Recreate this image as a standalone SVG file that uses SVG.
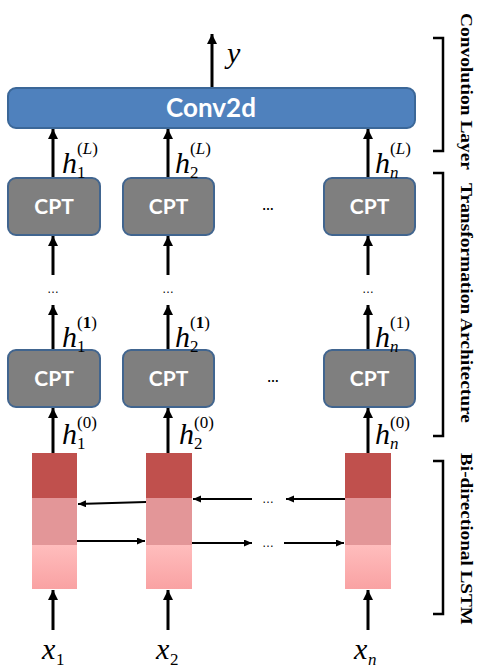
<svg xmlns="http://www.w3.org/2000/svg" width="481" height="668" viewBox="0 0 481 668">
<style>
.conv{fill:#4f81bd;stroke:#3b6798;stroke-width:2}
.cpt{fill:#7f7f7f;stroke:#41658f;stroke-width:2}
.lbl{font-family:"Lato","Open Sans",sans-serif;font-weight:bold;fill:#ffffff;text-anchor:middle}
.m{font-family:"Liberation Serif","Times New Roman",serif;fill:#000}
.it{font-style:italic}
.sub{font-size:17px}
.sup{font-size:17px}
.big{font-size:30px}
.dots{font-family:"Liberation Sans",Arial,sans-serif;font-size:12px;fill:#000;text-anchor:middle}
.side{font-family:"Liberation Serif","Times New Roman",serif;font-weight:bold;font-size:17px;fill:#000}
.v{stroke:#000;stroke-width:3;fill:none}
.h{stroke:#000;stroke-width:2;fill:none}
.br{stroke:#000;stroke-width:2.5;fill:none}
</style>
<defs>
<marker id="ah" markerUnits="userSpaceOnUse" markerWidth="10" markerHeight="11" refX="10" refY="5" orient="auto">
<path d="M0,0 L10,5 L0,10 Z" fill="#000"/>
</marker>
<marker id="ahs" markerUnits="userSpaceOnUse" markerWidth="8" markerHeight="8" refX="8" refY="3.5" orient="auto">
<path d="M0,0 L8,3.5 L0,7 Z" fill="#000"/>
</marker>
<linearGradient id="pink" x1="0" y1="0" x2="0" y2="1">
<stop offset="0" stop-color="#ffbdbd"/>
<stop offset="1" stop-color="#f9a2a3"/>
</linearGradient>
</defs>

<g id="connectors">
<line class="v" x1="212" y1="88" x2="212" y2="34" marker-end="url(#ah)"/>
<line class="v" x1="53" y1="178" x2="53" y2="129" marker-end="url(#ah)"/>
<line class="v" x1="168" y1="178" x2="168" y2="129" marker-end="url(#ah)"/>
<line class="v" x1="368" y1="178" x2="368" y2="129" marker-end="url(#ah)"/>
<line class="v" x1="53" y1="275" x2="53" y2="236" marker-end="url(#ah)"/>
<line class="v" x1="168" y1="275" x2="168" y2="236" marker-end="url(#ah)"/>
<line class="v" x1="368" y1="275" x2="368" y2="236" marker-end="url(#ah)"/>
<line class="v" x1="53" y1="350" x2="53" y2="305" marker-end="url(#ah)"/>
<line class="v" x1="168" y1="350" x2="168" y2="305" marker-end="url(#ah)"/>
<line class="v" x1="368" y1="350" x2="368" y2="305" marker-end="url(#ah)"/>
<line class="v" x1="53" y1="453" x2="53" y2="408" marker-end="url(#ah)"/>
<line class="v" x1="168" y1="453" x2="168" y2="408" marker-end="url(#ah)"/>
<line class="v" x1="368" y1="453" x2="368" y2="408" marker-end="url(#ah)"/>
<line class="v" x1="53" y1="630" x2="53" y2="590" marker-end="url(#ah)"/>
<line class="v" x1="168" y1="630" x2="168" y2="590" marker-end="url(#ah)"/>
<line class="v" x1="368" y1="630" x2="368" y2="590" marker-end="url(#ah)"/>
<line class="h" x1="146" y1="502" x2="78" y2="504" marker-end="url(#ahs)"/>
<line class="h" x1="252" y1="499" x2="193" y2="499" marker-end="url(#ahs)"/>
<line class="h" x1="345" y1="499" x2="286" y2="499" marker-end="url(#ahs)"/>
<line class="h" x1="77" y1="541" x2="145" y2="541" marker-end="url(#ahs)"/>
<line class="h" x1="192" y1="543" x2="252" y2="543" marker-end="url(#ahs)"/>
<line class="h" x1="284" y1="543" x2="344" y2="543" marker-end="url(#ahs)"/>
</g>

<g id="conv2d">
<rect class="conv" x="8" y="88" width="407" height="40" rx="8"/>
<text class="lbl" x="211" y="117" font-size="26">Conv2d</text>
</g>

<g id="cpt-L-1"><rect class="cpt" x="8" y="178" width="92" height="57" rx="8"/><text class="lbl" x="54" y="214" font-size="21">CPT</text></g>
<g id="cpt-L-2"><rect class="cpt" x="123" y="178" width="91" height="57" rx="8"/><text class="lbl" x="168.5" y="214" font-size="21">CPT</text></g>
<g id="cpt-L-n"><rect class="cpt" x="324" y="178" width="91" height="57" rx="8"/><text class="lbl" x="369.5" y="214" font-size="21">CPT</text></g>
<g id="cpt-1-1"><rect class="cpt" x="8" y="350" width="92" height="57" rx="8"/><text class="lbl" x="54" y="386" font-size="21">CPT</text></g>
<g id="cpt-1-2"><rect class="cpt" x="123" y="350" width="91" height="57" rx="8"/><text class="lbl" x="168.5" y="386" font-size="21">CPT</text></g>
<g id="cpt-1-n"><rect class="cpt" x="324" y="350" width="91" height="57" rx="8"/><text class="lbl" x="369.5" y="386" font-size="21">CPT</text></g>

<g id="lstm-1">
<rect x="32" y="453" width="45" height="45" fill="#c0504d"/>
<rect x="32" y="498" width="45" height="47" fill="#e39698"/>
<rect x="32" y="545" width="45" height="44" fill="url(#pink)"/>
</g>
<g id="lstm-2">
<rect x="146" y="453" width="46" height="45" fill="#c0504d"/>
<rect x="146" y="498" width="46" height="47" fill="#e39698"/>
<rect x="146" y="545" width="46" height="44" fill="url(#pink)"/>
</g>
<g id="lstm-n">
<rect x="345" y="453" width="46" height="45" fill="#c0504d"/>
<rect x="345" y="498" width="46" height="47" fill="#e39698"/>
<rect x="345" y="545" width="46" height="44" fill="url(#pink)"/>
</g>

<g id="dots">
<text class="dots" x="268" y="210" font-weight="bold">…</text>
<text class="dots" x="273" y="382" font-weight="bold">…</text>
<text class="dots" x="53" y="293">…</text>
<text class="dots" x="168" y="293">…</text>
<text class="dots" x="368" y="293">…</text>
<text class="dots" x="268" y="503">…</text>
<text class="dots" x="268" y="547">…</text>
</g>

<g id="labels">
<text class="m it big" x="227" y="63">y</text>

<text class="m it big" x="62" y="173">h</text><text class="m sub" x="77" y="178">1</text><text class="m sup" x="77" y="154">(<tspan class="it">L</tspan>)</text>
<text class="m it big" x="175" y="173">h</text><text class="m sub" x="190" y="178">2</text><text class="m sup" x="190" y="154">(<tspan class="it">L</tspan>)</text>
<text class="m it big" x="375" y="173">h</text><text class="m sub it" x="390" y="178">n</text><text class="m sup" x="390" y="154">(<tspan class="it">L</tspan>)</text>

<text class="m it big" x="62" y="347">h</text><text class="m sub" x="77" y="352">1</text><text class="m sup" x="77" y="328">(<tspan font-weight="bold">1</tspan>)</text>
<text class="m it big" x="175" y="347">h</text><text class="m sub" x="190" y="352">2</text><text class="m sup" x="190" y="328">(<tspan font-weight="bold">1</tspan>)</text>
<text class="m it big" x="375" y="347">h</text><text class="m sub it" x="390" y="352">n</text><text class="m sup" x="390" y="328">(1)</text>

<text class="m it big" x="62" y="444">h</text><text class="m sub" x="77" y="449">1</text><text class="m sup" x="77" y="428">(0)</text>
<text class="m it big" x="179" y="444">h</text><text class="m sub" x="194" y="449">2</text><text class="m sup" x="194" y="428">(0)</text>
<text class="m it big" x="375" y="444">h</text><text class="m sub it" x="390" y="449">n</text><text class="m sup" x="390" y="428">(0)</text>

<text class="m it big" x="42" y="659">x</text><text class="m sub" x="56" y="665">1</text>
<text class="m it big" x="156" y="659">x</text><text class="m sub" x="170" y="665">2</text>
<text class="m it big" x="354" y="659">x</text><text class="m sub it" x="368" y="665">n</text>
</g>

<g id="brackets">
<path class="br" d="M433,38 H443 V151 H433"/>
<path class="br" d="M433,173 H443 V436 H433"/>
<path class="br" d="M433,461 H443 V614 H433"/>
<text class="side" transform="translate(461,13) rotate(90)" textLength="157" lengthAdjust="spacingAndGlyphs">Convolution Layer</text>
<text class="side" transform="translate(461,183) rotate(90)" textLength="240" lengthAdjust="spacingAndGlyphs">Transformation Architecture</text>
<text class="side" transform="translate(461,453) rotate(90)" textLength="172" lengthAdjust="spacingAndGlyphs">Bi-directional LSTM</text>
</g>
</svg>
